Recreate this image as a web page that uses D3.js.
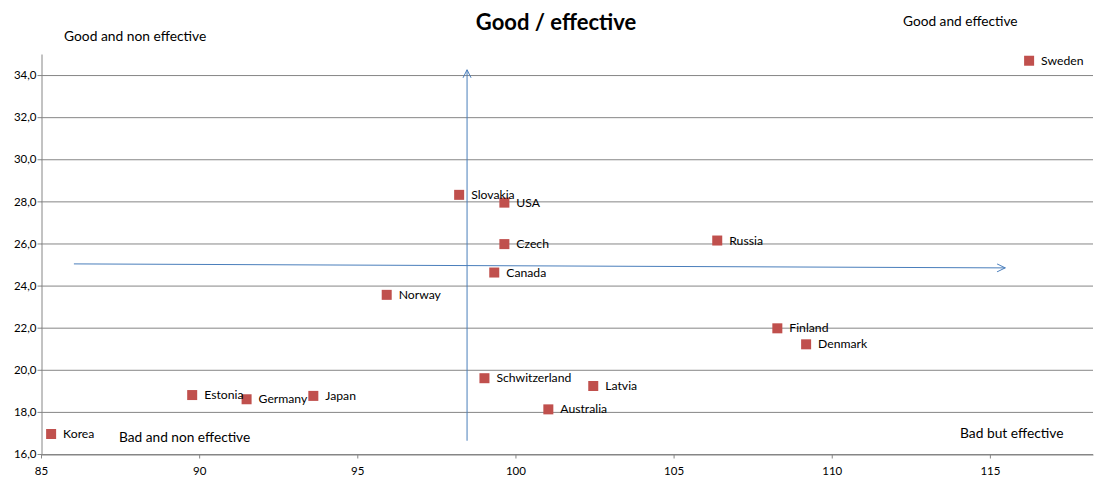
<!DOCTYPE html>
<html>
<head>
<meta charset="utf-8">
<script src="https://cdn.jsdelivr.net/npm/d3@7"></script>
<style>
  body { margin: 0; background: #fff; }
  text { font-family: Lato, "Open Sans", sans-serif; fill: #000; }
</style>
</head>
<body>
<script>
// Chart data
var countries = ['Korea', 'Estonia', 'Germany', 'Japan', 'Norway', 'Slovakia', 'USA', 'Czech',
                 'Canada', 'Schwitzerland', 'Australia', 'Latvia', 'Russia', 'Finland', 'Denmark', 'Sweden'];
var xValues = [85.32, 89.78, 91.5, 93.61, 95.93, 98.22, 99.65, 99.65,
               99.33, 99.02, 101.04, 102.46, 106.38, 108.28, 109.19, 116.24];
var yValues = [16.95, 18.8, 18.6, 18.76, 23.56, 28.31, 27.94, 25.97,
               24.62, 19.6, 18.12, 19.23, 26.14, 21.97, 21.21, 34.68];
var xTicks = [85, 90, 95, 100, 105, 110, 115];
var yTicks = [16, 18, 20, 22, 24, 26, 28, 30, 32, 34];

// Quadrant arrows in data units [x1, y1, x2, y2]
var arrowV = [98.47, 16.63, 98.47, 34.25];
var arrowH = [86.04, 25.03, 115.48, 24.84];

let width = 1116;
let height = 485;
let plotLeft = 41, plotRight = 1093, plotTop = 54, plotBottom = 454;

var svg = d3.select('body').append('svg')
            .attr('width', width)
            .attr('height', height);

var x = d3.scaleLinear().domain([85, 118.26]).range([plotLeft, plotRight]);
var y = d3.scaleLinear().domain([16, 35]).range([plotBottom, plotTop]);

var grey = '#868686';

// Horizontal gridlines
svg.selectAll('.grid').data(yTicks).enter().append('line')
   .attr('x1', plotLeft).attr('x2', plotRight)
   .attr('y1', d => y(d) + 0.5).attr('y2', d => y(d) + 0.5)
   .attr('stroke', grey).attr('stroke-width', 1);

// Y axis
var yAxis = svg.append('g').attr('transform', 'translate(' + (plotLeft + 0.5) + ',0)')
   .call(d3.axisLeft(y).tickValues(yTicks).tickSize(4).tickSizeOuter(0)
         .tickFormat(d => d3.format('.1f')(d).replace('.', ',')));

// X axis
var xAxis = svg.append('g').attr('transform', 'translate(0,' + (plotBottom + 0.5) + ')')
   .call(d3.axisBottom(x).tickValues(xTicks).tickSize(4).tickSizeOuter(0));

[yAxis, xAxis].forEach(function(g) {
  g.select('.domain').attr('stroke', grey);
  g.selectAll('.tick line').attr('stroke', grey);
  g.selectAll('.tick text').style('font-family', 'Lato, sans-serif').style('font-size', '11.5px').attr('fill', '#000');
});
xAxis.selectAll('.tick text').attr('dy', '1.15em');
yAxis.selectAll('.tick text').attr('x', -5);

// Arrow marker
var arrowColor = '#4A7EBB';
svg.append('defs').append('marker')
   .attr('id', 'head').attr('viewBox', '0 0 10 10')
   .attr('refX', 9).attr('refY', 5)
   .attr('markerWidth', 10).attr('markerHeight', 10)
   .attr('markerUnits', 'userSpaceOnUse')
   .attr('orient', 'auto')
   .append('path').attr('d', 'M1,1 L9,5 L1,9')
   .attr('fill', 'none').attr('stroke', arrowColor).attr('stroke-width', 1);

[arrowV, arrowH].forEach(function(a) {
  svg.append('line')
     .attr('x1', x(a[0])).attr('y1', y(a[1]))
     .attr('x2', x(a[2])).attr('y2', y(a[3]))
     .attr('stroke', arrowColor).attr('stroke-width', 1)
     .attr('marker-end', 'url(#head)');
});

// Points
var pts = countries.map((c, i) => ({ name: c, x: xValues[i], y: yValues[i] }));

svg.selectAll('.pt').data(pts).enter().append('rect')
   .attr('x', d => x(d.x) - 5).attr('y', d => y(d.y) - 5)
   .attr('width', 10).attr('height', 10)
   .attr('fill', '#C0504D');

svg.selectAll('.lbl').data(pts).enter().append('text')
   .attr('x', d => x(d.x) + 12).attr('y', d => y(d.y) + 4)
   .style('font-size', '12.2px')
   .text(d => d.name);

// Title and quadrant notes
svg.append('text').attr('x', 556).attr('y', 30)
   .attr('text-anchor', 'middle')
   .style('font-size', '22px').style('font-weight', 'bold')
   .text('Good / effective');

var notes = [
  { t: 'Good and non effective', x: 64, y: 41, s: 13.8 },
  { t: 'Good and effective', x: 903, y: 26, s: 13.7 },
  { t: 'Bad and non effective', x: 119, y: 442, s: 13.7 },
  { t: 'Bad but effective', x: 960, y: 438, s: 13.8 }
];
svg.selectAll('.note').data(notes).enter().append('text')
   .attr('x', d => d.x).attr('y', d => d.y)
   .style('font-size', d => d.s + 'px')
   .text(d => d.t);
</script>
</body>
</html>
